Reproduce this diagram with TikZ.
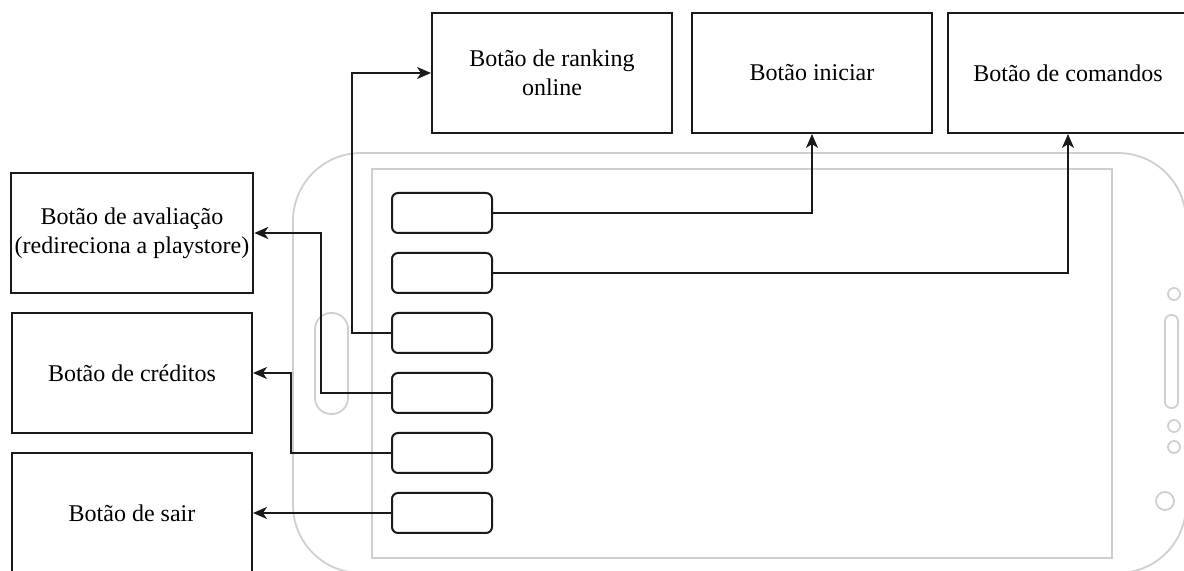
\documentclass[tikz,border=0pt]{standalone}
\usepackage{fontspec}
\setmainfont{Liberation Serif}
\usepackage{tikz}
\usetikzlibrary{arrows.meta,positioning}
\definecolor{phonegray}{HTML}{CFCFCF}
\definecolor{inkblack}{HTML}{1A1A1A}

\begin{document}
\begin{tikzpicture}[x=0.5pt,y=-0.5pt,
  namebox/.style={draw=inkblack,line width=1pt,minimum width=120pt,minimum height=60pt,inner sep=2pt,align=center,font=\fontsize{12}{14.5}\selectfont},
  btn/.style={draw=inkblack,line width=1pt,rounded corners=3pt,minimum width=50pt,minimum height=20pt,inner sep=0pt},
  conn/.style={draw=inkblack,line width=1pt,-{Stealth[length=7pt,width=6pt,inset=2pt]}},
  shell/.style={draw=phonegray,line width=0.9pt}]
  \useasboundingbox (0,0) rectangle (1184,571);
  % phone outline
  \draw[shell,rounded corners=34pt] (293,153) rectangle (1186,573);
  \draw[shell] (372,169) rectangle (1112,558);
  \draw[shell,rounded corners=8pt] (315,313) rectangle (348,414);
  \draw[shell,rounded corners=3pt] (1165,315) rectangle (1178,408);
  \foreach \y in {294,426,447} {
    \draw[shell] (1174,\y) circle (3pt);
  }
  \draw[shell] (1165,501) circle (4.5pt);
  % target boxes
  \node[namebox] (rank) at (552,73) {Botão de ranking\\online};
  \node[namebox] (start) at (812,73) {Botão iniciar};
  \node[namebox] (cmds) at (1068,73) {Botão de comandos};
  \node[namebox] (rate) at (132,233) {Botão de avaliação\\(redireciona a playstore)};
  \node[namebox] (credits) at (132,373) {Botão de créditos};
  \node[namebox] (quit) at (132,513) {Botão de sair};
  % screen buttons
  \foreach \i in {1,...,6} {
    \node[btn] (b\i) at (442,153+60*\i) {};
  }
  \draw[conn] (b1.east) -| (start.south);
  \draw[conn] (b2.east) -| (cmds.south);
  \draw[conn] (b3.west) -- ++(-39,0) |- (rank.west);
  \draw[conn] (b4.west) -- ++(-70,0) |- (rate.east);
  \draw[conn] (b5.west) -- ++(-100,0) |- (credits.east);
  \draw[conn] (b6.west) -- (quit.east);
\end{tikzpicture}
\end{document}
